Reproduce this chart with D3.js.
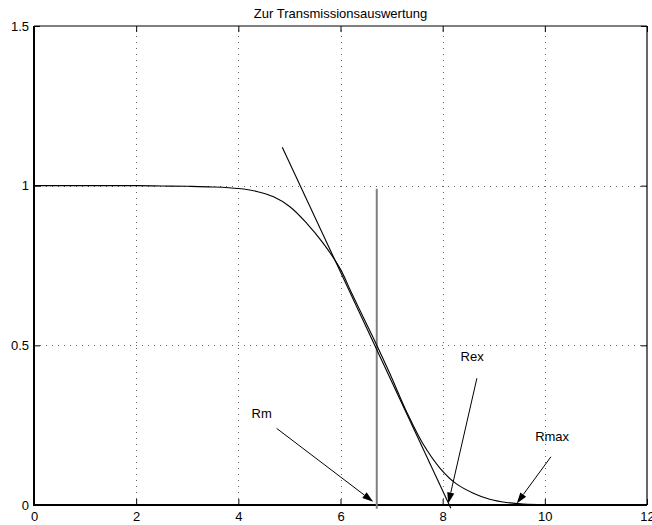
<!DOCTYPE html>
<html>
<head>
<meta charset="utf-8">
<script src="https://cdn.jsdelivr.net/npm/d3@7"></script>
<style>
  html, body { margin: 0; padding: 0; background: #fff; }
  svg { display: block; }
  text { font-family: "Liberation Sans", Arial, Helvetica, sans-serif; fill: #000; }
</style>
</head>
<body>
<svg id="chart" width="652" height="525"></svg>
<script>
// Transmission curve T(R)
const curveX = [0, 1, 2, 2.5, 3, 3.5, 4, 4.36, 4.69, 5.01, 5.34, 5.66, 5.99, 6.22, 6.51, 6.71, 6.97, 7.30, 7.62, 7.95, 8.27, 8.60, 8.92, 9.25, 9.58, 10];
const curveY = [1, 1, 1, 0.999, 0.998, 0.996, 0.991, 0.982, 0.965, 0.934, 0.882, 0.820, 0.741, 0.663, 0.567, 0.5, 0.41, 0.29, 0.19, 0.115, 0.066, 0.037, 0.018, 0.008, 0.003, 0.001];

// Straight line through the steepest part of the curve
const tangentX = [4.86, 8.16];
const tangentY = [1.12, -0.01];

// Vertical marker at the 50 % point
const markerX = 6.71;
const markerY = [-0.012, 0.99];

// Annotations: text, text anchor point, arrow start, arrow tip
const noteText  = ["Rm", "Rex", "Rmax"];
const noteTextX = [4.26, 8.35, 9.81];
const noteTextY = [0.272, 0.451, 0.200];
const arrowFromX = [4.75, 8.67, 10.12];
const arrowFromY = [0.240, 0.397, 0.151];
const arrowToX   = [6.64, 8.11, 9.45];
const arrowToY   = [0.010, 0.005, 0.005];

// Axes
const xTicks = [0, 2, 4, 6, 8, 10, 12];
const xTickLabels = ["0", "2", "4", "6", "8", "10", "12"];
const yTicks = [0, 0.5, 1, 1.5];
const yTickLabels = ["0", "0.5", "1", "1.5"];
const xGrid = [2, 4, 6, 8, 10];
const yGrid = [0.5, 1];
const title = "Zur Transmissionsauswertung";

const L = 34, R = 647, T = 26, B = 505;
const svg = d3.select("#chart");
const x = d3.scaleLinear().domain([0, 12]).range([L, R]);
const y = d3.scaleLinear().domain([0, 1.5]).range([B, T]);

// grid
const grid = svg.append("g")
  .attr("stroke", "#666").attr("stroke-width", 1)
  .attr("stroke-dasharray", "1 5").attr("shape-rendering", "crispEdges");
grid.selectAll("line.gx").data(xGrid).join("line").attr("class", "gx")
  .attr("x1", d => Math.round(x(d)) + 0.5).attr("x2", d => Math.round(x(d)) + 0.5)
  .attr("y1", B).attr("y2", T);
grid.selectAll("line.gy").data(yGrid).join("line").attr("class", "gy")
  .attr("y1", d => Math.round(y(d)) + 0.5).attr("y2", d => Math.round(y(d)) + 0.5)
  .attr("x1", L).attr("x2", R);

// axes with inward ticks on all four sides
const fs = "13px";
const axB = svg.append("g").attr("transform", `translate(0,${B})`)
  .call(d3.axisBottom(x).tickValues(xTicks).tickFormat((d, i) => xTickLabels[i]).tickSize(-6).tickPadding(7));
const axT = svg.append("g").attr("transform", `translate(0,${T})`)
  .call(d3.axisTop(x).tickValues(xTicks).tickFormat("").tickSize(-6));
const axL = svg.append("g").attr("transform", `translate(${L},0)`)
  .call(d3.axisLeft(y).tickValues(yTicks).tickFormat((d, i) => yTickLabels[i]).tickSize(-6).tickPadding(5));
const axR = svg.append("g").attr("transform", `translate(${R},0)`)
  .call(d3.axisRight(y).tickValues(yTicks).tickFormat("").tickSize(-6));
[axB, axT, axL, axR].forEach(a => {
  a.select(".domain").remove();
  a.selectAll("line").attr("stroke", "#000");
  a.selectAll("text").style("font-size", fs).attr("font-family", null);
});

// box
svg.append("line").attr("x1", L).attr("x2", R).attr("y1", T).attr("y2", T).attr("stroke", "#000").attr("stroke-width", 1.2);
svg.append("line").attr("x1", R).attr("x2", R).attr("y1", T).attr("y2", B).attr("stroke", "#000").attr("stroke-width", 1.2);
svg.append("line").attr("x1", L - 1).attr("x2", R).attr("y1", B).attr("y2", B).attr("stroke", "#000").attr("stroke-width", 2);
svg.append("line").attr("x1", L).attr("x2", L).attr("y1", T).attr("y2", B + 1).attr("stroke", "#000").attr("stroke-width", 2);

// title
svg.append("text").attr("x", (L + R) / 2).attr("y", 17.5)
  .attr("text-anchor", "middle").style("font-size", fs).text(title);

// vertical marker
svg.append("line")
  .attr("x1", x(markerX)).attr("x2", x(markerX))
  .attr("y1", y(markerY[0])).attr("y2", y(markerY[1]))
  .attr("stroke", "#808080").attr("stroke-width", 2);

// transmission curve
const pts = curveX.map((d, i) => [d, curveY[i]]);
svg.append("path").datum(pts)
  .attr("fill", "none").attr("stroke", "#000").attr("stroke-width", 1.1)
  .attr("d", d3.line().x(d => x(d[0])).y(d => y(d[1])).curve(d3.curveCatmullRom.alpha(0.5)));

// tangent
svg.append("line")
  .attr("x1", x(tangentX[0])).attr("y1", y(tangentY[0]))
  .attr("x2", x(tangentX[1])).attr("y2", y(tangentY[1]))
  .attr("stroke", "#000").attr("stroke-width", 1.1);

// annotations with arrows
const notes = svg.append("g");
noteText.forEach((t, i) => {
  notes.append("text").attr("x", x(noteTextX[i])).attr("y", y(noteTextY[i]))
    .style("font-size", fs).text(t);
  const x0 = x(arrowFromX[i]), y0 = y(arrowFromY[i]);
  const x1 = x(arrowToX[i]), y1 = y(arrowToY[i]);
  const ang = Math.atan2(y1 - y0, x1 - x0);
  const len = 11, hw = 3.6;
  const bx = x1 - len * Math.cos(ang), by = y1 - len * Math.sin(ang);
  notes.append("line").attr("x1", x0).attr("y1", y0).attr("x2", bx).attr("y2", by)
    .attr("stroke", "#000").attr("stroke-width", 1);
  const px = -Math.sin(ang) * hw, py = Math.cos(ang) * hw;
  notes.append("polygon")
    .attr("points", `${x1},${y1} ${bx + px},${by + py} ${bx - px},${by - py}`)
    .attr("fill", "#000");
});
</script>
</body>
</html>
